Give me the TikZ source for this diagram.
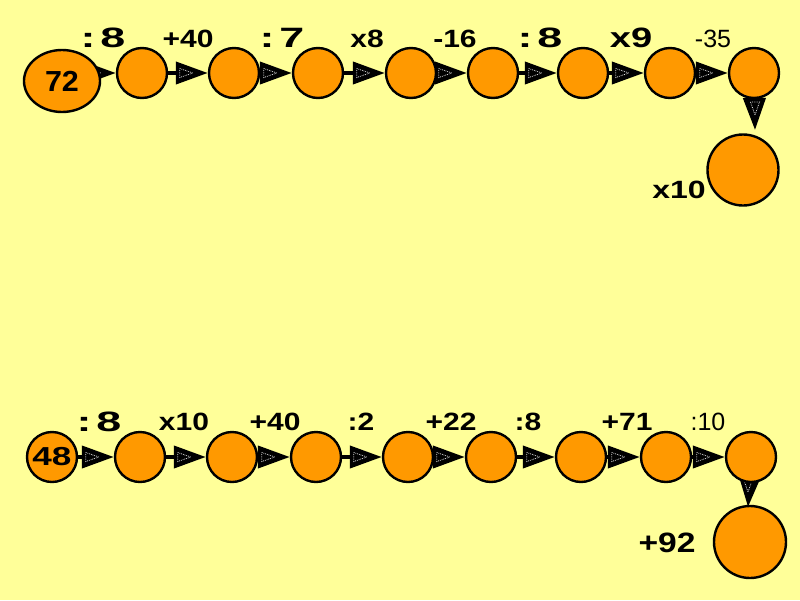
\documentclass[tikz,border=0pt]{standalone}
\usepackage{fontspec}
\setmainfont{Liberation Sans}
\usetikzlibrary{arrows.meta,shapes.geometric,calc}
\pgfdeclarelayer{back}
\pgfdeclarelayer{bg}
\pgfsetlayers{back,bg,main}
\definecolor{paper}{RGB}{255,255,153}
\definecolor{ball}{RGB}{255,153,0}
\tikzset{
  ballnode/.style={circle,draw=black,line width=2.4pt,fill=ball,inner sep=0pt,minimum size=50pt},
  bigball/.style={ballnode,minimum size=71pt},
  conn/.style={line width=4pt,-{Triangle[length=32pt,width=22pt]}},
  innertri/.style={draw=white!75!gray,line width=0.8pt,densely dotted},
  lbl/.style={font=\bfseries\fontsize{25}{28}\selectfont,inner sep=0pt,xscale=1.2},
  heavy/.style={font=\bfseries\fontsize{28}{30}\selectfont,inner sep=0pt,xscale=1.6},
  narrow/.style={font=\fontsize{25}{28}\selectfont,inner sep=0pt,xscale=1.0},
}
\newcommand\harr[2]{%
  \draw[conn] (#1 |- #2.west) -- (#2.west);
  \draw[innertri] ($(#2.west)+(-28,-4.5)$) -- ++(13,4.5) -- ++(-13,4.5) -- cycle;
}
\newcommand\varr[2]{%
  \draw[conn] (#1.center) -- (#2);
  \draw[innertri] ($(#2)+(-4.5,-28)$) -- ++(4.5,13) -- ++(4.5,-13) -- cycle;
}
\begin{document}
\begin{tikzpicture}[x=1pt,y=-1pt]
\begin{pgfonlayer}{back}
\fill[paper] (0,0) rectangle (800,600);
\end{pgfonlayer}
\useasboundingbox (0,0) rectangle (800,600);
% top row
\node[ballnode,ellipse,minimum width=76pt,minimum height=62pt,font=\bfseries\fontsize{29}{30}\selectfont] (a1) at (62,81) {\scalebox{1.05}[1]{72}};
\node[ballnode] (a2) at (142,73) {};
\node[ballnode] (a3) at (234,73) {};
\node[ballnode] (a4) at (318,73) {};
\node[ballnode] (a5) at (411,73) {};
\node[ballnode] (a6) at (493,73) {};
\node[ballnode] (a7) at (583,73) {};
\node[ballnode] (a8) at (670,73) {};
\node[ballnode] (a9) at (754,73) {};
\node[bigball] (a10) at (743,170) {};
\coordinate (ta) at (755,130);
% bottom row
\node[ballnode,font=\bfseries\fontsize{26}{30}\selectfont] (b1) at (52,457) {\scalebox{1.35}[1]{48}};
\node[ballnode] (b2) at (140,457) {};
\node[ballnode] (b3) at (232,457) {};
\node[ballnode] (b4) at (316,457) {};
\node[ballnode] (b5) at (408,457) {};
\node[ballnode] (b6) at (491,457) {};
\node[ballnode] (b7) at (581,457) {};
\node[ballnode] (b8) at (666,457) {};
\node[ballnode] (b9) at (751,457) {};
\node[bigball,minimum size=72pt] (b10) at (750,542) {};
\coordinate (tb) at (748,507);
% connectors
\begin{pgfonlayer}{bg}
\harr{a1}{a2}\harr{a2}{a3}\harr{a3}{a4}\harr{a4}{a5}
\harr{a5}{a6}\harr{a6}{a7}\harr{a7}{a8}\harr{a8}{a9}
\varr{a9}{ta}
\harr{b1}{b2}\harr{b2}{b3}\harr{b3}{b4}\harr{b4}{b5}
\harr{b5}{b6}\harr{b6}{b7}\harr{b7}{b8}\harr{b8}{b9}
\varr{b9}{tb}
\end{pgfonlayer}
% labels top
\node[heavy] (l1) at (103,38) {:\hspace{3pt}8};
\node[lbl] (l2) at (188,39) {+40};
\node[heavy] (l3) at (282,38) {:\hspace{3pt}7};
\node[lbl] (l4) at (367,39) {x8};
\node[lbl] (l5) at (455,39) {-16};
\node[heavy] (l6) at (540,38) {:\hspace{3pt}8};
\node[heavy,xscale=0.85] (l7) at (631,38) {x9};
\node[narrow] (l8) at (713,39) {-35};
\node[heavy,font=\bfseries\fontsize{25}{28}\selectfont,xscale=0.8] (l9) at (679,190) {x10};
% labels bottom
\node[heavy] (m1) at (99,422) {:\hspace{3pt}8};
\node[lbl] (m2) at (184,422) {x10};
\node[lbl] (m3) at (275,422) {+40};
\node[lbl] (m4) at (361,422) {:2};
\node[lbl] (m5) at (451,422) {+22};
\node[lbl] (m6) at (528,422) {:8};
\node[lbl] (m7) at (627,422) {+71};
\node[narrow] (m8) at (708,422) {:10};
\node[lbl,font=\bfseries\fontsize{28}{30}\selectfont,xscale=1.0] (m9) at (667,543) {+92};
\end{tikzpicture}
\end{document}
